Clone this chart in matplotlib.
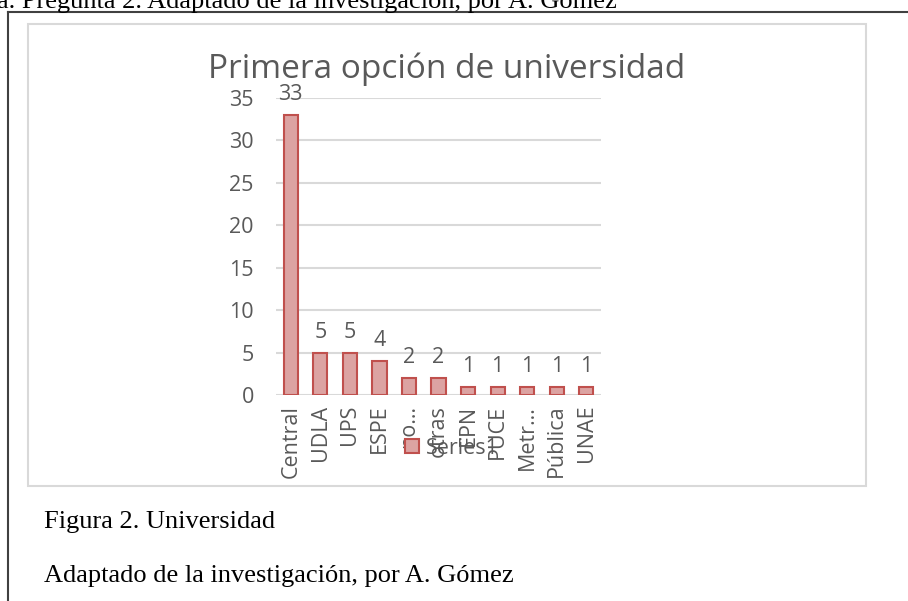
import matplotlib
matplotlib.use("Agg")
import matplotlib.pyplot as plt
from matplotlib.patches import Rectangle
from matplotlib.lines import Line2D

categories = ["Central", "UDLA", "UPS", "ESPE", "no…", "otras", "EPN", "PUCE", "Metr…", "Pública", "UNAE"]
values = [33, 5, 5, 4, 2, 2, 1, 1, 1, 1, 1]
yticks = [0, 5, 10, 15, 20, 25, 30, 35]
title = "Primera opción de universidad"
series_name = "Series1"

W, H = 908, 601
fig = plt.figure(figsize=(W / 100, H / 100), dpi=100)

def fx(px):
    return px / W

def fy(py):
    return 1 - py / H

gray_txt = "#595959"
sans = ["Open Sans", "DejaVu Sans"]
serif = ["Liberation Serif", "DejaVu Serif"]
fs = 15.5

# outer document frame
fig.add_artist(Line2D([fx(8), fx(8)], [fy(12), 0], color="#404040", lw=1.5))
fig.add_artist(Line2D([fx(8), 1], [fy(12), fy(12)], color="#404040", lw=1.5))
# chart area frame
fig.add_artist(Rectangle((fx(28), fy(486)), fx(866) - fx(28), fy(24) - fy(486),
                         fill=False, edgecolor="#d9d9d9", lw=1.5))

# surrounding document text
fig.text(fx(-3), fy(8), "a. Pregunta 2. Adaptado de la investigación, por A. Gómez",
         family=serif, fontsize=19, color="black", ha="left", va="baseline")
fig.text(fx(44), fy(522), "Figura 2. Universidad", family=serif, fontsize=19,
         color="black", ha="left", va="center")
fig.text(fx(44), fy(576), "Adaptado de la investigación, por A. Gómez", family=serif,
         fontsize=19, color="black", ha="left", va="center")

# plot axes
ax = fig.add_axes([fx(276), fy(395), fx(601) - fx(276), fy(98) - fy(395)])
x = list(range(len(categories)))
bars = ax.bar(x, values, width=0.48, color="#dca3a2", edgecolor="#c0504d", linewidth=1.5,
              zorder=3, label=series_name)
ax.set_ylim(0, 35)
ax.set_xlim(-0.5, len(categories) - 0.5)
ax.set_yticks(yticks)
ax.set_yticklabels([str(t) for t in yticks], family=sans, fontsize=fs, color=gray_txt)
ax.set_xticks(x)
ax.set_xticklabels(categories, rotation=90, family=sans, fontsize=fs, color=gray_txt)
ax.tick_params(axis="x", length=0, pad=7)
ax.tick_params(axis="y", length=0, pad=16)
for s in ax.spines.values():
    s.set_visible(False)
ax.yaxis.grid(True, color="#d9d9d9", lw=1.5, zorder=0)
ax.set_axisbelow(True)
ax.patch.set_alpha(0)

for xi, v in zip(x, values):
    ax.annotate(str(v), (xi, v), xytext=(0, 7), textcoords="offset points",
                ha="center", va="bottom", family=sans, fontsize=fs, color=gray_txt)

fig.text(fx(447), fy(69), title, family=sans, fontsize=24, color=gray_txt,
         ha="center", va="center")

leg = ax.legend(loc="center", bbox_to_anchor=(fx(452), fy(448)), bbox_transform=fig.transFigure,
                frameon=False, prop={"family": sans, "size": fs}, handlelength=0.65,
                handleheight=0.65, handletextpad=0.35, borderpad=0)
for t in leg.get_texts():
    t.set_color(gray_txt)

fig.savefig("out.png", dpi=100)
